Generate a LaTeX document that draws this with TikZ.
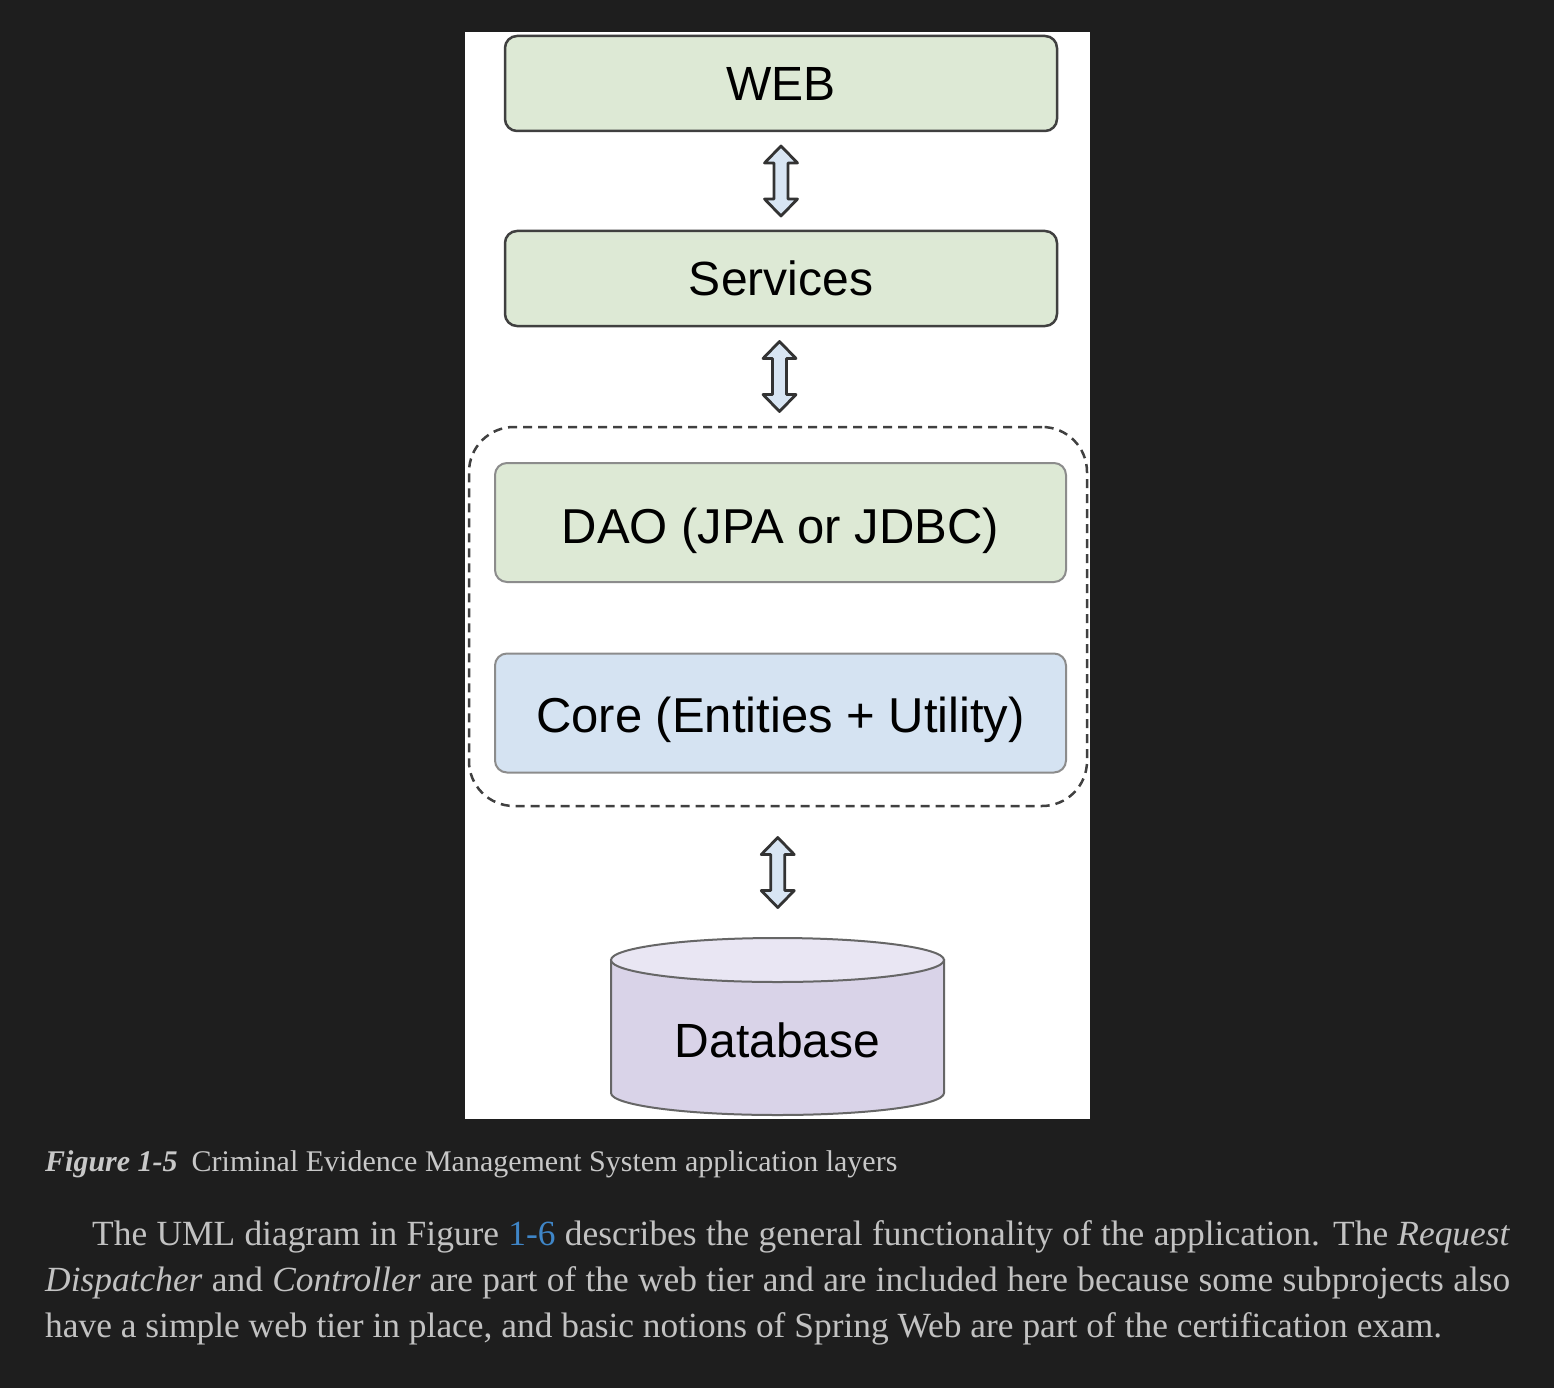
\documentclass[tikz,border=0pt]{standalone}
\usepackage{fontspec}
\setmainfont{Liberation Serif}
\newfontfamily\boxfont{Liberation Sans}
\usetikzlibrary{calc}
\definecolor{pagebg}{HTML}{1E1E1E}
\definecolor{layergreen}{HTML}{DDE9D5}
\definecolor{coreblue}{HTML}{D5E3F2}
\definecolor{arrowblue}{HTML}{D8E5F3}
\definecolor{dbbody}{HTML}{D9D3E8}
\definecolor{dbtop}{HTML}{E9E6F3}
\definecolor{textgray}{HTML}{C2C2C2}
\definecolor{linkblue}{HTML}{3F86C8}
\tikzset{
  layer/.style={draw=black!75, line width=2.5pt, fill=layergreen, rounded corners=12pt,
    minimum width=552pt, minimum height=95pt, inner sep=0pt,
    font=\boxfont\fontsize{48}{56}\selectfont},
  inlayer/.style={draw=black!45, line width=2pt, fill=layergreen, rounded corners=12pt,
    minimum width=571pt, minimum height=119pt, inner sep=0pt, text height=42pt, text depth=0pt,
    font=\boxfont\fontsize{49}{58}\selectfont},
  group/.style={draw=black!75, line width=2.5pt, dash pattern=on 9pt off 6pt, rounded corners=45pt,
    minimum width=618pt, minimum height=379pt},
  updown/.style={draw=black!80, line width=2.8pt, fill=arrowblue, line join=round},
  pagetext/.style={text=textgray, inner sep=0pt, font=\fontsize{35.4}{46}\selectfont}
}
\def\updown(#1){\draw[updown] ($(#1)+(0,-35)$) -- ++(16.5,17) -- ++(-9.5,0) -- ++(0,36) -- ++(9.5,0)
  -- ++(-16.5,17) -- ++(-16.5,-17) -- ++(9.5,0) -- ++(0,-36) -- ++(-9.5,0) -- cycle;}
\begin{document}
\begin{tikzpicture}[x=1pt,y=-1pt]
  %%%%% START %%%%%
  \fill[pagebg] (0,0) rectangle (1554,1388);
  \fill[white] (465,32) rectangle (1090,1119);

  \node[layer] (web) at (781,83.5) {WEB};
  \node[layer] (services) at (781,278.5) {Services};

  \node[group] (persist) at (778,616.5) {};
  \node[inlayer] (dao) at (780.5,522.5) {DAO (JPA or JDBC)};
  \node[inlayer, fill=coreblue, text height=38pt] (core) at (780.5,713) {Core (Entities + Utility)};

  % database cylinder
  \coordinate (dbc) at (777.5,1027);
  \draw[draw=black!60, line width=2pt, fill=dbbody] ($(dbc)+(-166.5,-67)$) -- ($(dbc)+(-166.5,66)$)
    arc[start angle=180, end angle=360, x radius=166.5pt, y radius=22pt]
    -- ($(dbc)+(166.5,-67)$) -- cycle;
  \draw[draw=black!60, line width=2pt, fill=dbtop] ($(dbc)+(0,-67)$) ellipse[x radius=166.5pt, y radius=22pt];
  \node[minimum width=333pt, minimum height=178pt, inner sep=0pt, text height=60pt, text depth=0pt,
    font=\boxfont\fontsize{48}{56}\selectfont] (db) at (dbc) {Database};

  \coordinate (a1) at ($(web.south)!0.5!(services.north)$);
  \coordinate (a2) at ($(services.south)!0.5!(persist.north)$);
  \coordinate (a3) at ($(persist.south)!0.5!(db.north)$);
  \updown(a1)
  \updown(a2)
  \updown(a3)

  % caption and text below
  \node[pagetext, anchor=base west, font=\fontsize{30}{36}\selectfont, text=textgray!90] (caption) at (45,1171)
    {\textbf{\textit{Figure 1-5}}\hspace{14pt}Criminal Evidence Management System application layers};
  \node[pagetext, anchor=base west] (line1) at (92,1245)
    {\makebox[1418pt][s]{The UML diagram in Figure \textcolor{linkblue}{1-6} describes the general functionality of the application. The \textit{Request}}};
  \node[pagetext, anchor=base west] (line2) at (45,1291)
    {\makebox[1465pt][s]{\textit{Dispatcher} and \textit{Controller} are part of the web tier and are included here because some subprojects also}};
  \node[pagetext, anchor=base west] (line3) at (45,1337)
    {have a simple web tier in place, and basic notions of Spring Web are part of the certification exam.};
  %%%%% END %%%%%
\end{tikzpicture}
\end{document}
